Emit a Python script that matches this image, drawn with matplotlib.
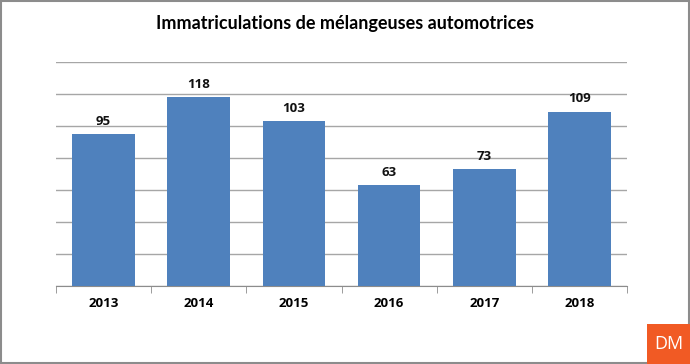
import numpy as np
import matplotlib.pyplot as plt
from matplotlib.patches import Rectangle

years = ['2013', '2014', '2015', '2016', '2017', '2018']
values = [95, 118, 103, 63, 73, 109]

plt.rcParams['font.family'] = ['Open Sans', 'DejaVu Sans']

fig = plt.figure(figsize=(6.9, 3.64), dpi=100)
ax = fig.add_axes([56/690, 78/364, 571/690, 224/364])

x = np.arange(len(years))
bars = ax.bar(x, values, width=0.66, color='#4F81BD', zorder=3)
for b, v in zip(bars, values):
    ax.text(b.get_x() + b.get_width()/2, v + 4, str(v), ha='center', va='bottom',
            fontsize=9.5, fontweight='bold', color='#111111')

ax.set_xlim(-0.5, len(years) - 0.5)
ax.set_ylim(0, 140)
ax.set_yticks(np.arange(0, 141, 20))
ax.set_yticklabels([])
ax.tick_params(axis='y', length=0)
ax.grid(axis='y', color='#A6A6A6', linewidth=1, zorder=0)

# category labels centred, tick marks between categories
ax.set_xticks(x)
ax.set_xticklabels(years, fontsize=9.5, fontweight='bold')
ax.tick_params(axis='x', length=0, pad=8)
ax.set_xticks(np.arange(-0.5, len(years)), minor=True)
ax.tick_params(axis='x', which='minor', length=5, color='#8C8C8C', direction='out')

for s in ['left', 'right', 'top']:
    ax.spines[s].set_visible(False)
ax.spines['bottom'].set_color('#8C8C8C')

fig.text(0.5, 1 - 23/364, 'Immatriculations de mélangeuses automotrices',
         ha='center', va='center', fontsize=13, fontweight='bold',
         family=['Lato', 'DejaVu Sans'])

# outer border
fig.patches.append(Rectangle((0.001, 0.002), 0.997, 0.995, transform=fig.transFigure,
                             fill=False, edgecolor='#8C8C8C', linewidth=1.5))

# DM logo
fig.patches.append(Rectangle((647/690, 0), 43/690, 40/364, transform=fig.transFigure,
                             facecolor='#F15A24', edgecolor='none', zorder=5))
fig.text((647 + 21.5)/690, 20/364, 'DM', ha='center', va='center', color='white',
         fontsize=13, zorder=6)

fig.savefig('out.png', dpi=100)
